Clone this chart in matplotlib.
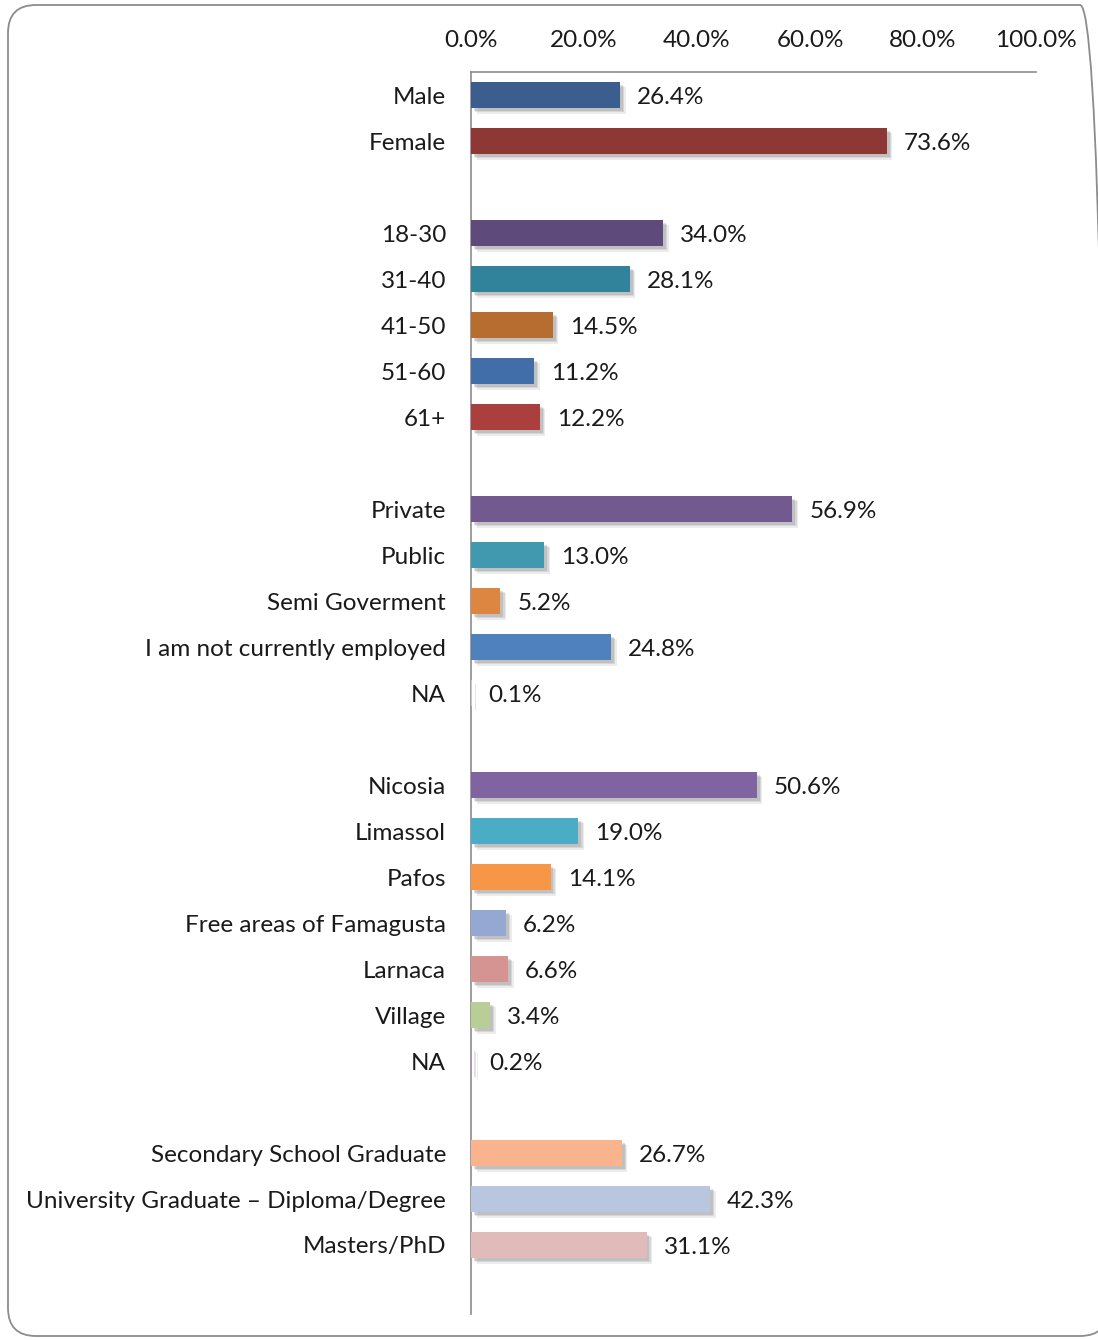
import matplotlib
matplotlib.use("Agg")
import matplotlib.pyplot as plt
from matplotlib import patheffects
from matplotlib.patches import FancyBboxPatch
from matplotlib.transforms import IdentityTransform
from matplotlib.ticker import FuncFormatter

plt.rcParams['font.family'] = ['Lato', 'DejaVu Sans']

# survey groups, separated by blank rows
labels = [
    "Male", "Female", "",
    "18-30", "31-40", "41-50", "51-60", "61+", "",
    "Private", "Public", "Semi Goverment", "I am not currently employed", "NA", "",
    "Nicosia", "Limassol", "Pafos", "Free areas of Famagusta", "Larnaca", "Village", "NA", "",
    "Secondary School Graduate", "University Graduate \u2013 Diploma/Degree", "Masters/PhD", "",
]
values = [
    26.4, 73.6, None,
    34.0, 28.1, 14.5, 11.2, 12.2, None,
    56.9, 13.0, 5.2, 24.8, 0.1, None,
    50.6, 19.0, 14.1, 6.2, 6.6, 3.4, 0.2, None,
    26.7, 42.3, 31.1, None,
]
colors = [
    "#3B5E8E", "#8E3836", None,
    "#5E4A7B", "#31839B", "#B86D30", "#416EA8", "#AA3F3E", None,
    "#725990", "#4199AF", "#DD8641", "#4F81BD", "#C9C0D8", None,
    "#8064A2", "#4BACC6", "#F79646", "#95A8D2", "#D59392", "#B9CD96", "#A894C0", None,
    "#F9B48E", "#B9C6DF", "#E0BBBA", None,
]
ticks = [0, 20, 40, 60, 80, 100]

W, H = 1098, 1340
fig = plt.figure(figsize=(W / 100, H / 100), dpi=100, facecolor="white")

# rounded outer frame, in pixels
frame = FancyBboxPatch((8, 4), 1100, 1331,
                       boxstyle="round,pad=0,rounding_size=28",
                       transform=IdentityTransform(), facecolor="none",
                       edgecolor="#8C8C8C", linewidth=1.3, zorder=-1)
fig.patches.append(frame)

ax = fig.add_axes([471 / W, 1 - 1314 / H, (1036 - 471) / W, (1314 - 72) / H])
ax.patch.set_alpha(0)

n = len(labels)
ypos = list(range(n))
shadow = [patheffects.SimplePatchShadow(offset=(4, -4), shadow_rgbFace="#808080", alpha=0.15),
          patheffects.SimplePatchShadow(offset=(3, -3), shadow_rgbFace="#808080", alpha=0.2),
          patheffects.SimplePatchShadow(offset=(2, -2), shadow_rgbFace="#808080", alpha=0.25),
          patheffects.Normal()]

for y, v, c in zip(ypos, values, colors):
    if v is None:
        continue
    bar = ax.barh(y, v, height=0.57, color=c, zorder=3)
    for p in bar:
        p.set_path_effects(shadow)
    ax.text(v + 3.0, y + 0.06, f"{v:.1f}%", va="center", ha="left",
            fontsize=17.5, color="#1A1A1A", zorder=4)

ax.set_xlim(0, 100)
ax.set_ylim(n - 0.5, -0.5)
ax.set_yticks(ypos)
ax.set_yticklabels(labels)
ax.set_xticks(ticks)
ax.xaxis.set_major_formatter(FuncFormatter(lambda x, _: f"{x:.1f}%"))
ax.xaxis.tick_top()
ax.tick_params(axis="x", length=0, pad=15, labelsize=17.5, labelcolor="#1A1A1A")
ax.tick_params(axis="y", length=0, pad=18, labelsize=17.5, labelcolor="#1A1A1A")

for side in ("right", "bottom"):
    ax.spines[side].set_visible(False)
for side in ("top", "left"):
    ax.spines[side].set_color("#8C8C8C")
    ax.spines[side].set_linewidth(1.2)

fig.savefig("out.png", dpi=100)
